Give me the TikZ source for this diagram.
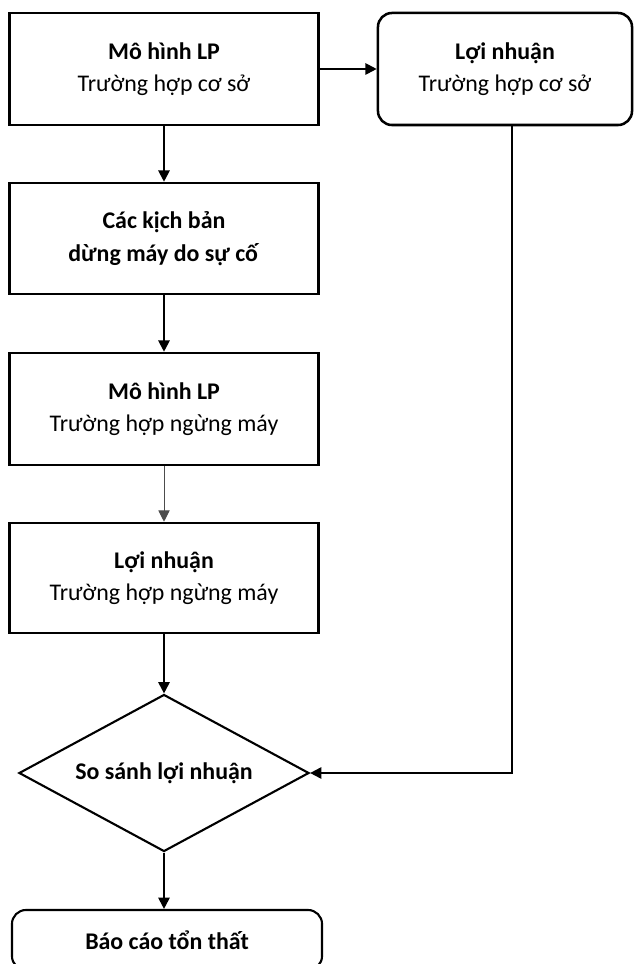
\documentclass[tikz,border=0pt]{standalone}
\usepackage{fontspec}
\setmainfont{Carlito}
\usetikzlibrary{arrows.meta,shapes.geometric}

\begin{document}
\begin{tikzpicture}[x=0.025cm, y=-0.025cm,
    box/.style={rectangle, draw=black, line width=1.8pt, minimum width=7.725cm,
      minimum height=2.8cm, inner sep=0pt, align=center,
      font=\fontsize{17}{23}\selectfont},
    roundbox/.style={box, rounded corners=0.35cm},
    decision/.style={diamond, aspect=1.85, draw=black, line width=1.5pt, minimum width=7.25cm,
      minimum height=3.925cm, inner sep=0pt, font=\bfseries\fontsize{17}{23}\selectfont}]
      \useasboundingbox (0,0) rectangle (633,964);
      \begin{scope}[every node/.style={box}]
        \node (lpbase) at (164,69) {\textbf{Mô hình LP}\\Trường hợp cơ sở};
        \node (profbase) [roundbox, minimum width=6.35cm] at (505,69) {\textbf{Lợi nhuận}\\Trường hợp cơ sở};
        \node (scen) [minimum height=2.775cm] at (164,238.5) {\textbf{Các kịch bản}\\\textbf{dừng máy do sự cố}};
        \node (lpdown) at (164,409) {\textbf{Mô hình LP}\\Trường hợp ngừng máy};
        \node (profdown) [minimum height=2.75cm] at (164,578) {\textbf{Lợi nhuận}\\Trường hợp ngừng máy};
        \node (cmp) [decision] at (164,773) {So sánh lợi nhuận};
        \node (report) [roundbox, minimum width=7.75cm, minimum height=1.5cm, line width=1.5pt] at (167,940) {\textbf{Báo cáo tổn thất}};
      \end{scope}
      \coordinate (turn) at (512,773);
      \begin{scope}
        [every edge/.style={draw=black, line width=1.4pt, -{Triangle[length=8pt,width=8pt]}}]
        \path (lpbase) edge (profbase);
        \path (lpbase) edge (scen);
        \path (scen) edge (lpdown);
        \path (lpdown) edge[draw=black!70, line width=0.7pt] (profdown);
        \path (profdown) edge (cmp);
        \path (cmp.south) edge (cmp.south |- report.north);
        \path (profbase.south -| turn) edge[to path={|- (\tikztotarget)}] (cmp.east);
      \end{scope}
    \end{tikzpicture}
\end{document}
